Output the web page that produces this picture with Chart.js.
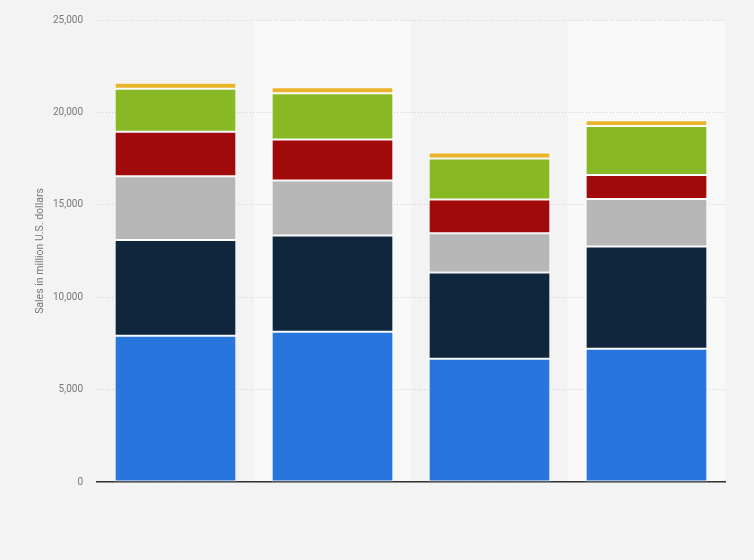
<!DOCTYPE html>
<html>
<head>
<meta charset="utf-8">
<script src="https://cdn.jsdelivr.net/npm/chart.js@4"></script>
<style>
  html, body { margin: 0; padding: 0; background: #f3f3f3; }
  #wrap { width: 754px; height: 560px; }
</style>
</head>
<body>
<div id="wrap"><canvas id="myChart"></canvas></div>
<script>
// categories (x labels are not shown in the picture)
const categories = ["1", "2", "3", "4"];

// stacked segments, bottom to top, million U.S. dollars
const blueSeries = [7920, 8130, 6670, 7210];
const navySeries = [5170, 5210, 4660, 5530];
const graySeries = [3460, 2980, 2130, 2570];
const redSeries = [2400, 2220, 1830, 1300];
const greenSeries = [2330, 2490, 2210, 2660];
const yellowSeries = [320, 330, 330, 310];

const yTicks = [0, 5000, 10000, 15000, 20000, 25000];

// lighter background on every second column
const bands = {
  id: "bands",
  beforeDraw(chart) {
    const { ctx, chartArea, scales } = chart;
    const x = scales.x;
    const w = (chartArea.right - chartArea.left) / categories.length;
    ctx.save();
    ctx.fillStyle = "#f8f8f8";
    categories.forEach((c, i) => {
      if (i % 2 === 1) {
        const cx = x.getPixelForValue(i);
        ctx.fillRect(cx - w / 2, chartArea.top, w, chartArea.bottom - chartArea.top);
      }
    });
    ctx.restore();
  }
};

const seg = (data, color) => ({
  data: data,
  backgroundColor: color,
  borderColor: "rgba(255,255,255,0.75)",
  borderWidth: 1,
  borderSkipped: false,
  barPercentage: 0.775,
  categoryPercentage: 1
});

const ctx = document.getElementById("myChart");

new Chart(ctx, {
  type: "bar",
  data: {
    labels: categories,
    datasets: [
      seg(blueSeries, "#2876dd"),
      seg(navySeries, "#0f263d"),
      seg(graySeries, "#b7b7b7"),
      seg(redSeries, "#a10a0a"),
      seg(greenSeries, "#88b925"),
      seg(yellowSeries, "#ebb32c")
    ]
  },
  options: {
    responsive: true,
    maintainAspectRatio: false,
    animation: false,
    layout: { padding: { left: 0, right: 29, top: 14, bottom: 70 } },
    plugins: {
      legend: { display: false },
      tooltip: { enabled: false }
    },
    scales: {
      x: {
        stacked: true,
        ticks: { display: false },
        grid: { display: false },
        border: { display: true, color: "#333", width: 1.5 }
      },
      y: {
        stacked: true,
        min: 0,
        max: 25000,
        afterBuildTicks(axis) {
          axis.ticks = yTicks.map(v => ({ value: v }));
        },
        afterFit(axis) {
          axis.width = 97;
        },
        ticks: {
          color: "#777",
          font: { family: "Roboto, 'Liberation Sans', sans-serif", size: 10 },
          padding: 14
        },
        grid: {
          color: "#d0d0d0",
          drawTicks: false
        },
        border: { display: false, dash: [1, 2] },
        title: {
          display: true,
          text: "Sales in million U.S. dollars",
          color: "#777",
          font: { family: "Roboto, 'Liberation Sans', sans-serif", size: 10.5 },
          padding: { top: 34, bottom: 0 }
        }
      }
    }
  },
  plugins: [bands]
});
</script>
</body>
</html>
